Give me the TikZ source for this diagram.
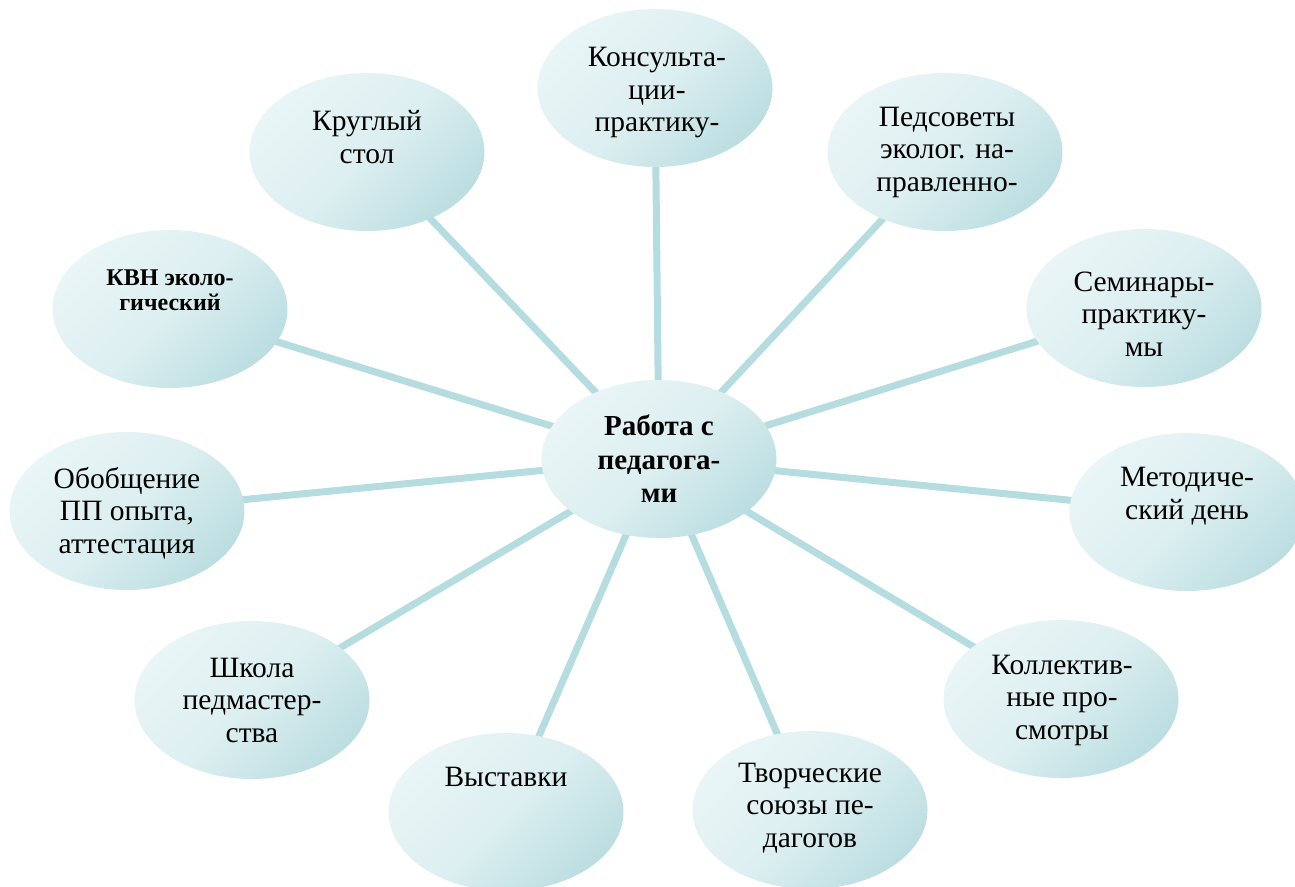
\documentclass[tikz,border=0pt]{standalone}
\usepackage{fontspec}
\setmainfont{Liberation Serif}
\usetikzlibrary{shapes.geometric,backgrounds}
\definecolor{elLight}{HTML}{E9F5F6}
\definecolor{elMid}{HTML}{DDEFF1}
\definecolor{elDark}{HTML}{BCDEE1}
\definecolor{connC}{HTML}{B5DCDF}
\begin{document}
\begin{tikzpicture}[x=1pt,y=-1pt,
  bubble/.style={ellipse, minimum width=235pt, minimum height=158pt, inner sep=0pt,
    top color=elLight, bottom color=elDark, middle color=elMid, shading angle=45},
  label/.style={align=center, inner sep=0pt, font=\fontsize{29.5}{32.5}\selectfont},
  blabel/.style={align=center, inner sep=0pt, font=\fontsize{29}{33.5}\selectfont\bfseries},
  klabel/.style={align=center, inner sep=0pt, font=\fontsize{24}{25.5}\selectfont\bfseries},
  conn/.style={draw=connC, line width=7pt}]
\clip (0,0) rectangle (1295,886);
\useasboundingbox (0,0) rectangle (1295,886);
% ellipses
\node[bubble] (c)    at (659,459) {};
\node[bubble] (kons) at (655,88) {};
\node[bubble] (krug) at (367,152) {};
\node[bubble] (peds) at (945,152) {};
\node[bubble] (kvn)  at (170,309) {};
\node[bubble] (sem)  at (1144,308) {};
\node[bubble] (obob) at (127,511) {};
\node[bubble] (met)  at (1187,512) {};
\node[bubble] (shk)  at (252,700) {};
\node[bubble] (kol)  at (1061,699) {};
\node[bubble] (vys)  at (506,812) {};
\node[bubble] (tvor) at (810,810) {};
% connectors
\begin{pgfonlayer}{background}
\foreach \n in {kons,krug,peds,kvn,sem,obob,met,shk,kol,vys,tvor}
  \draw[conn] (c.center) -- (\n.center);
\end{pgfonlayer}
% texts
\node[blabel] (ct) at (659,459) {Работа с\\педагога-\\ми};
\node[label] (konst) at (657,93) {Консульта-\\ции-\\практику-};
\node[label] (krugt) at (367,137) {Круглый\\стол};
\node[label] (pedst) at (947,152) {Педсоветы\\эколог. на-\\правленно-};
\node[klabel] (kvnt) at (170,290) {КВН эколо-\\гический};
\node[label] (semt) at (1144,314) {Семинары-\\практику-\\мы};
\node[label] (obobt) at (127,513) {Обобщение\\ПП опыта,\\аттестация};
\node[label] (mett) at (1187,496) {Методиче-\\ский день};
\node[label] (shkt) at (252,700) {Школа\\педмастер-\\ства};
\node[label] (kolt) at (1062,700) {Коллектив-\\ные про-\\смотры};
\node[label] (vyst) at (506,777) {Выставки};
\node[label] (tvort) at (810,808) {Творческие\\союзы пе-\\дагогов};
\end{tikzpicture}
\end{document}
